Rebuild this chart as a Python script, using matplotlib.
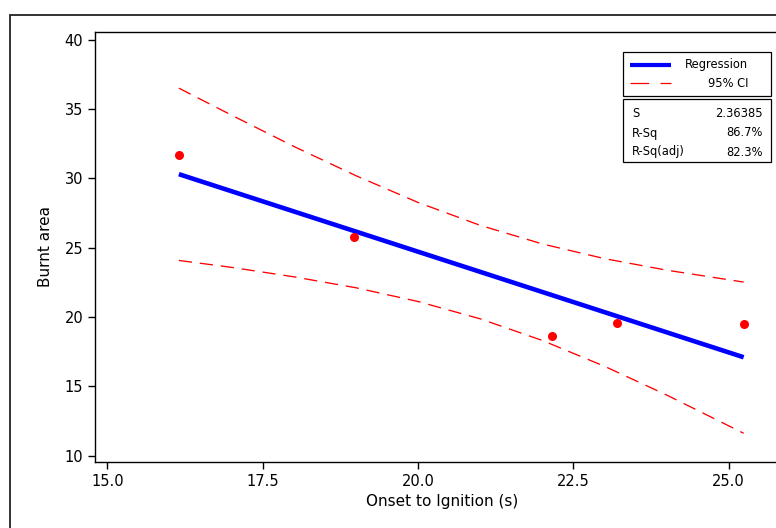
import matplotlib
matplotlib.use("Agg")
import matplotlib.pyplot as plt
from matplotlib.patches import Rectangle
from matplotlib.lines import Line2D

plt.rcParams['font.family'] = ['DejaVu Sans']

# Observed data
onset = [16.15, 18.97, 22.16, 23.20, 25.24]
burnt = [31.68, 25.77, 18.63, 19.57, 19.50]

# Regression line
reg_x = [16.15, 25.24]
reg_y = [30.30, 17.10]

# 95% CI band
ci_x = [16.15, 17.0, 18.0, 19.0, 20.0, 21.0, 22.0, 23.0, 24.0, 25.24]
ci_upper = [36.50, 34.55, 32.30, 30.19, 28.26, 26.61, 25.27, 24.21, 23.38, 22.52]
ci_lower = [24.08, 23.58, 22.90, 22.11, 21.12, 19.87, 18.31, 16.45, 14.38, 11.62]

xticks = [15.0, 17.5, 20.0, 22.5, 25.0]
yticks = [10, 15, 20, 25, 30, 35, 40]

stats_labels = ["S", "R-Sq", "R-Sq(adj)"]
stats_values = ["2.36385", "86.7%", "82.3%"]

W, H = 776, 528
fig = plt.figure(figsize=(W / 100, H / 100), dpi=100)

def fx(px):
    return px / W

def fy(py):
    return 1 - py / H

# outer frame (partially out of view)
fig.patches.append(Rectangle((fx(10), fy(560)), fx(800) - fx(10), fy(14.5) - fy(560),
                             transform=fig.transFigure, fill=False,
                             edgecolor='#222222', linewidth=1.3, zorder=0))

ax = fig.add_axes([fx(95), fy(461.7), fx(790) - fx(95), fy(32) - fy(461.7)])
ax.set_xlim(14.80, 25.986)
ax.set_ylim(9.57, 40.55)

ax.plot(ci_x, ci_upper, color='red', lw=0.95, linestyle=(0, (10, 6)))
ax.plot(ci_x, ci_lower, color='red', lw=0.95, linestyle=(0, (10, 6)))
ax.plot(reg_x, reg_y, color='blue', lw=3.3, solid_capstyle='butt')
ax.plot(onset, burnt, 'o', color='red', markersize=6.5, markeredgewidth=0)

ax.set_xticks(xticks)
ax.set_xticklabels([f"{v:.1f}" for v in xticks])
ax.set_yticks(yticks)
ax.tick_params(direction='out', length=5, width=1, labelsize=10.5, pad=3.5)
for s in ax.spines.values():
    s.set_linewidth(1)
ax.set_xlabel("Onset to Ignition (s)", fontsize=11, labelpad=4)
ax.set_ylabel("Burnt area", fontsize=11, labelpad=8)

# Legend box
fig.patches.append(Rectangle((fx(623), fy(95.7)), fx(771) - fx(623), fy(52.3) - fy(95.7),
                             transform=fig.transFigure, fill=True, facecolor='white',
                             edgecolor='black', linewidth=0.9, zorder=5))
fig.lines.append(Line2D([fx(630), fx(671)], [fy(64.7), fy(64.7)], transform=fig.transFigure,
                        color='blue', lw=3, solid_capstyle='butt', zorder=6))
fig.lines.append(Line2D([fx(630), fx(671)], [fy(83.3), fy(83.3)], transform=fig.transFigure,
                        color='red', lw=0.9, linestyle=(0, (15, 9)), zorder=6))
fig.text(fx(748), fy(64.7), "Regression", ha='right', va='center', fontsize=8.3, zorder=7)
fig.text(fx(748), fy(83.3), "95% CI", ha='right', va='center', fontsize=8.3, zorder=7)

# Stats box
fig.patches.append(Rectangle((fx(623), fy(161.7)), fx(771) - fx(623), fy(99.3) - fy(161.7),
                             transform=fig.transFigure, fill=True, facecolor='white',
                             edgecolor='black', linewidth=0.9, zorder=5))
rows_y = [113.5, 133.0, 152.0]
for lab, val, yy in zip(stats_labels, stats_values, rows_y):
    fig.text(fx(632), fy(yy), lab, ha='left', va='center', fontsize=8.3, zorder=7)
    fig.text(fx(763), fy(yy), val, ha='right', va='center', fontsize=8.3, zorder=7)

fig.savefig("out.png", dpi=100)
